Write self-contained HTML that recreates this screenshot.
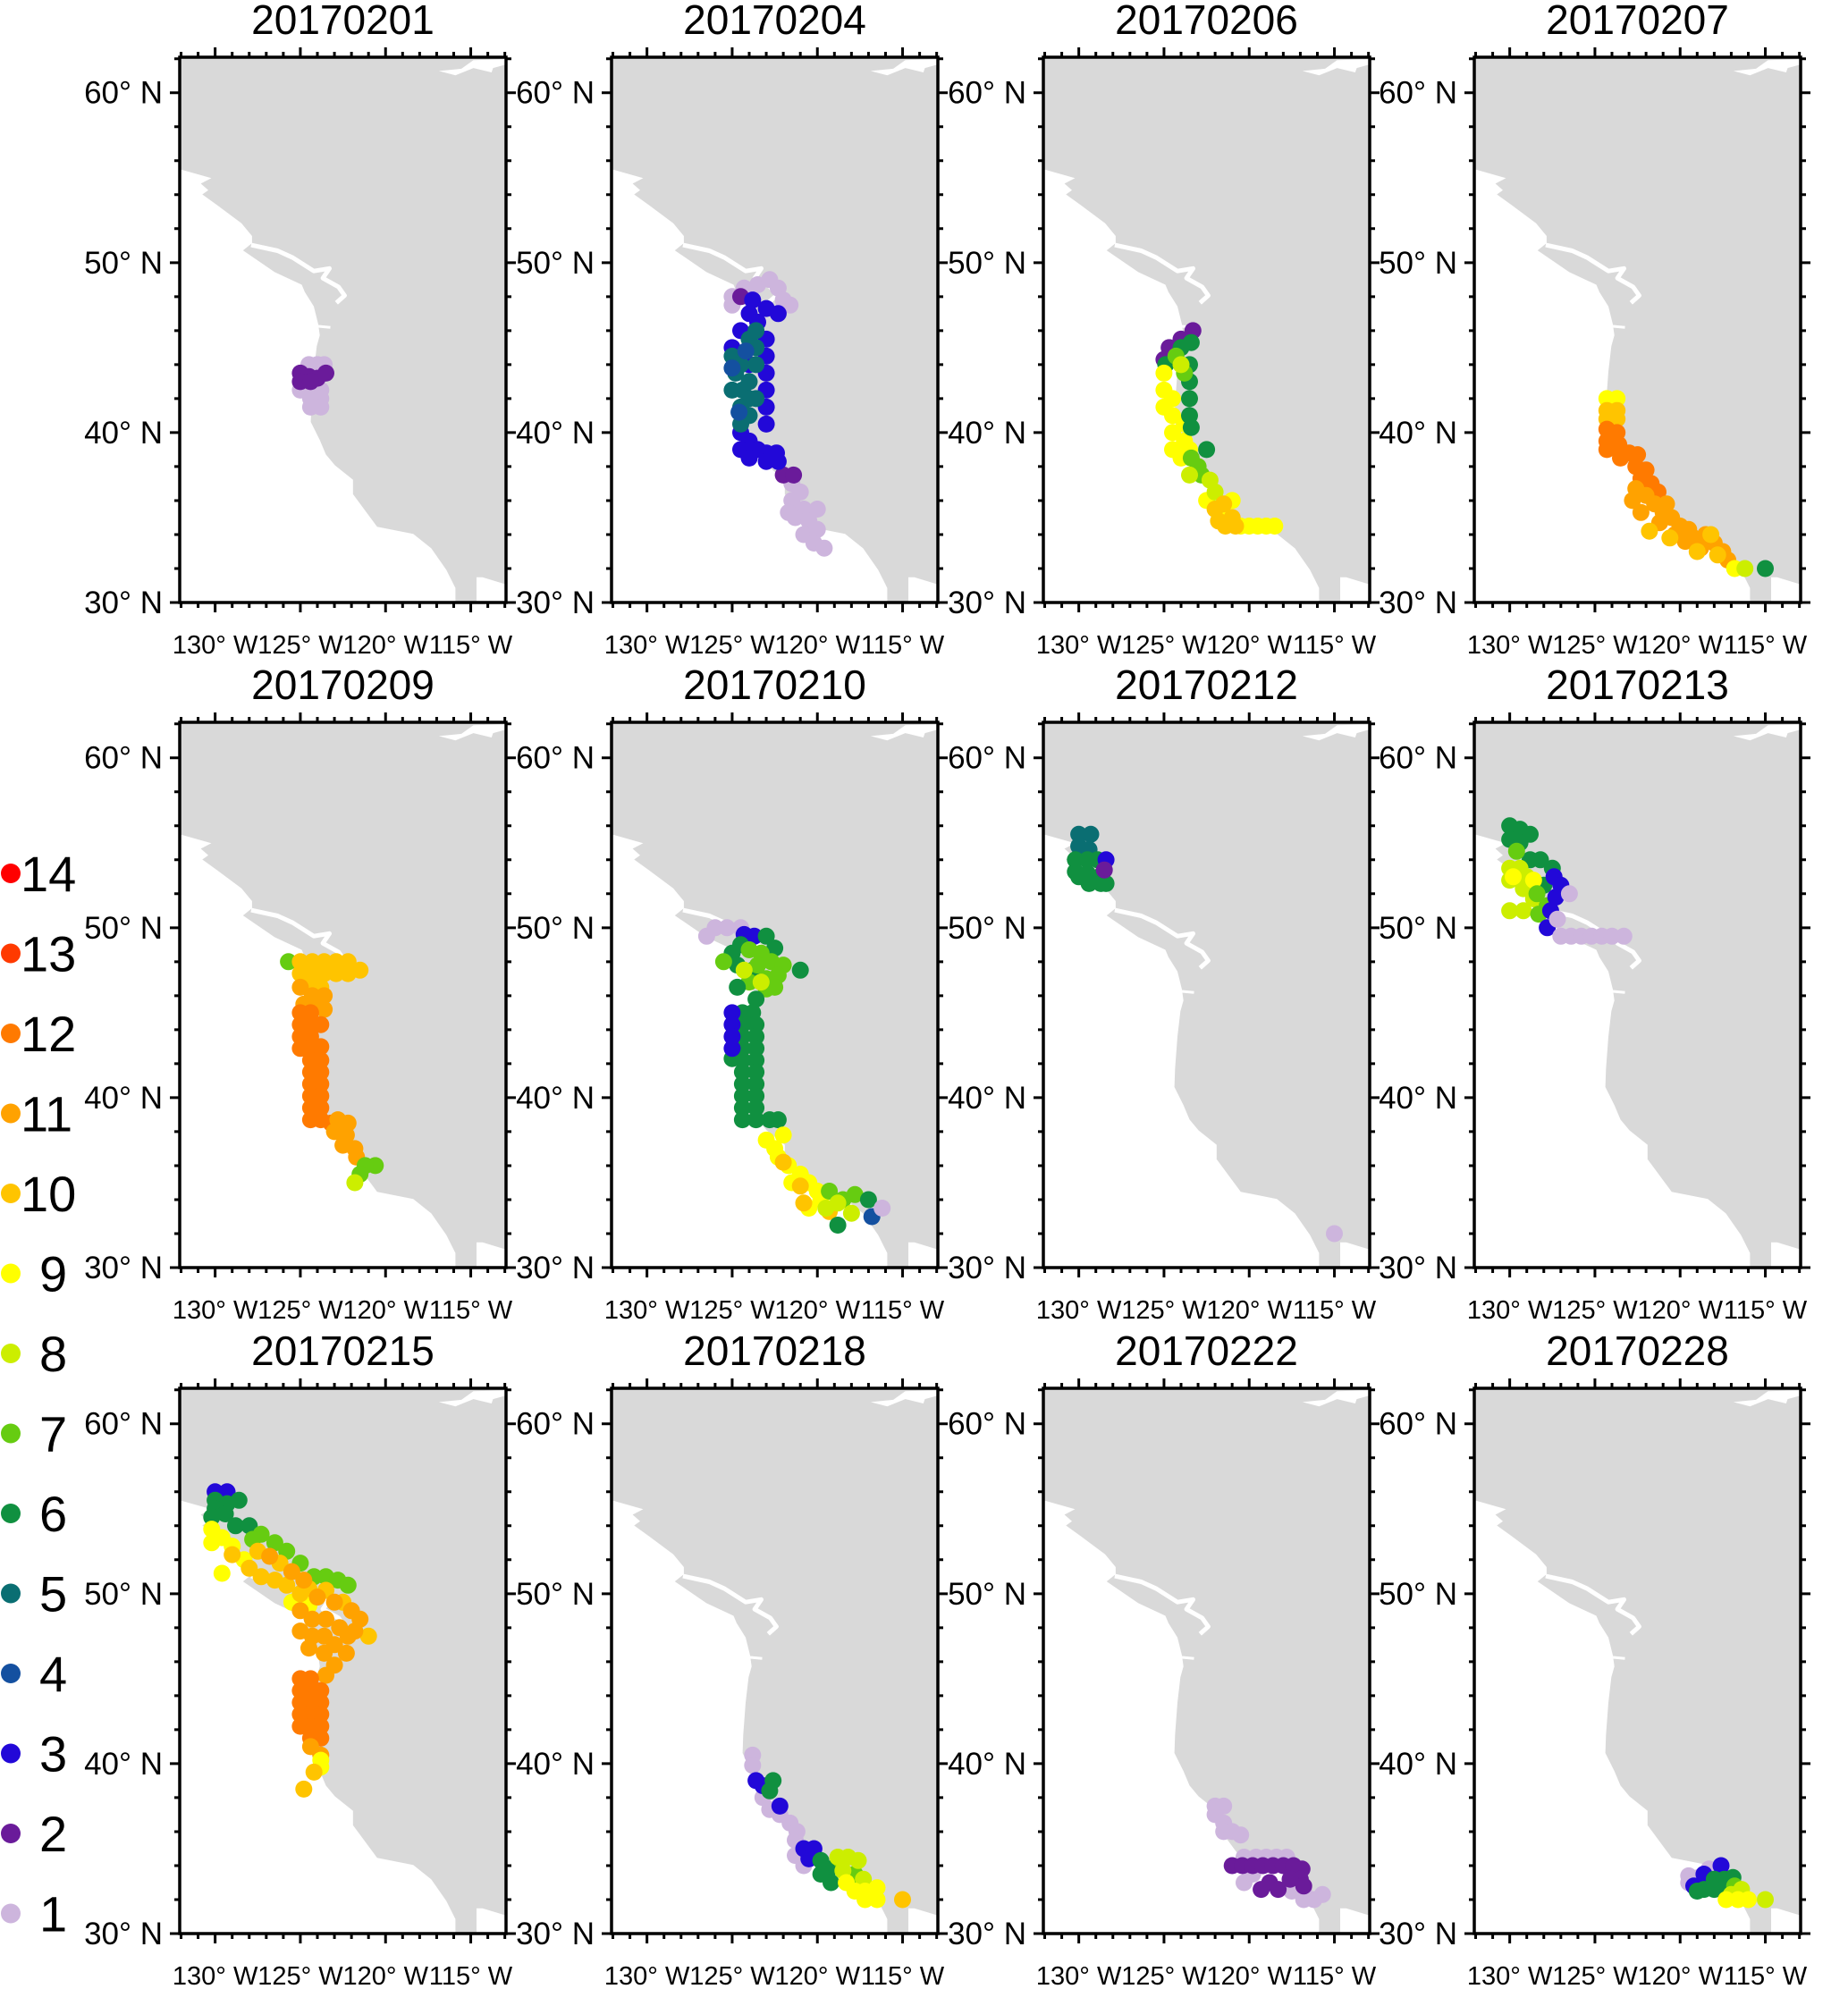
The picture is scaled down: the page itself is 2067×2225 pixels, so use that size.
<!DOCTYPE html>
<html><head><meta charset="utf-8"><style>
html,body{margin:0;padding:0;background:#fff}
svg{display:block}
text{font-family:"Liberation Sans",Arial,sans-serif;fill:#000}
</style></head><body>
<svg id="fig" width="2067" height="2225" viewBox="0 0 2067 2225" xmlns="http://www.w3.org/2000/svg"></svg>
<script>
const dates=["20170201","20170204","20170206","20170207","20170209","20170210","20170212","20170213","20170215","20170218","20170222","20170228"];
const legendValues=[14,13,12,11,10,9,8,7,6,5,4,3,2,1];
const lonTicks=[-130,-125,-120,-115];
const lonTickLabels=["130° W","125°  W","120° W","115° W"];
const latTicks=[30,40,50,60];
const latTickLabels=["30° N","40° N","50° N","60° N"];
const palette={14:"#ff0000",13:"#ff3a00",12:"#ff7a00",11:"#ffa200",10:"#ffc400",9:"#ffff00",8:"#ccee00",7:"#66cc11",6:"#109040",5:"#0a6e72",4:"#1450a0",3:"#2208d8",2:"#6a1b9a",1:"#cdb5dd"};
// points per panel: [lon, lat, value]
const p0201=[[-124.5,44,1],[-124,44,1],[-123.6,44,1],[-125,42.5,1],[-124.4,42.5,1],[-123.8,42.5,1],[-124.4,42,1],[-123.8,42,1],[-124.4,41.5,1],[-123.8,41.5,1],[-125,43.5,2],[-124.5,43.3,2],[-124,43.2,2],[-123.5,43.5,2],[-125,43,2],[-124.4,43,2]];
const p0204=[[-125,48,1],[-124.3,48.5,1],[-123.5,48.7,1],[-122.8,49,1],[-122.3,48.5,1],[-121.6,47.5,1],[-122,47.8,1],[-125,47.5,1],[-121.5,37,1],[-121,36.5,1],[-121.5,36,1],[-120.8,35.5,1],[-121.3,35,1],[-120.5,34.8,1],[-120.8,34,1],[-120,34.3,1],[-120.2,33.5,1],[-119.6,33.2,1],[-121.7,35.3,1],[-120,35.5,1],[-124.5,48,2],[-122,37.5,2],[-121.4,37.5,2],[-123.8,47.8,3],[-123,47.3,3],[-122.3,47,3],[-124,47,3],[-125,45,3],[-123.5,46.5,3],[-123,45.5,3],[-123,44.5,3],[-123,43.5,3],[-123,42.5,3],[-123,41.5,3],[-123,40.5,3],[-124.5,40,3],[-124,39.5,3],[-124.5,39,3],[-123.5,39,3],[-123,38.8,3],[-122.4,38.8,3],[-124,38.5,3],[-123,38.3,3],[-122.3,38.3,3],[-124.5,46,3],[-124,44,3],[-125,44.5,5],[-124.5,44,5],[-124.8,43.5,5],[-125,42.5,5],[-124.4,42.5,5],[-124,42,5],[-124.5,41.5,5],[-124,41,5],[-124.5,40.5,5],[-124,45.5,5],[-123.6,46,5],[-123.6,45,5],[-124,43,5],[-123.6,42,5],[-123.6,44,5],[-125,43.8,4],[-124.2,44.8,4],[-124.6,41.2,4]];
const p0206=[[-124.7,45,2],[-124,45.5,2],[-123.3,46,2],[-125,44.3,2],[-124.4,44.7,2],[-124,45,6],[-123.4,45.3,6],[-124.9,44,6],[-125,43.5,9],[-125,42.5,9],[-125,41.5,9],[-124.5,41,9],[-124.5,40,9],[-124.5,39,9],[-124,38.5,9],[-124.5,42,9],[-123.8,40.5,9],[-123.8,39.5,9],[-123.5,39,9],[-122.5,36,9],[-121.5,35,9],[-120.5,34.5,9],[-120,34.5,9],[-119.5,34.5,9],[-119,34.5,9],[-118.5,34.5,9],[-121,36,9],[-123.5,44,6],[-123.5,43,6],[-123.5,42,6],[-123.5,41,6],[-123.4,40.3,6],[-124.3,44.5,7],[-123.8,43.5,7],[-123,38,7],[-122.8,37.5,7],[-123.4,38.5,7],[-124,44,8],[-123.5,37.5,8],[-122.3,37.2,8],[-122,36.5,8],[-122.5,39,6],[-122,35.5,10],[-121.5,35.8,10],[-121,35,10],[-121.8,34.8,10],[-120.8,34.5,10],[-121.4,34.5,10]];
const p0207=[[-124.3,42,9],[-123.7,42,9],[-124.3,41.3,10],[-123.7,41.3,10],[-124.3,40.8,10],[-123.7,40.8,10],[-124.3,40.2,12],[-124.3,39.5,12],[-124.3,39,12],[-123.7,40,12],[-123.6,39.3,12],[-123.5,38.5,12],[-123,38.8,12],[-122.5,38.7,12],[-122.6,38,12],[-122,37.8,12],[-122.3,37.3,12],[-121.7,37,12],[-121.3,36.5,12],[-122.8,36,11],[-122,36.3,11],[-121.5,35.8,11],[-121,35.3,11],[-122.3,35.3,11],[-120.5,35,11],[-121.2,34.7,11],[-120,34.5,11],[-119.5,34.3,11],[-120.3,34,11],[-119.2,33.8,11],[-118.5,34,11],[-118,33.5,11],[-118.8,33.2,11],[-117.5,33,11],[-117.2,32.5,11],[-120.8,35.8,11],[-119.7,33.6,11],[-122.6,36.7,11],[-121.8,34.2,10],[-120.6,33.8,10],[-119,33,10],[-118.2,34,10],[-117.8,32.8,10],[-116.8,32,9],[-116.2,32,8],[-115,32,6]];
const p0209=[[-125.7,48,7],[-125,48,10],[-124.3,48,10],[-123.6,48,10],[-122.9,48,10],[-122.2,48,10],[-121.5,47.5,10],[-125,47.3,10],[-124.3,47.3,10],[-123.6,47.3,10],[-122.9,47.3,10],[-122.2,47.3,10],[-124.5,46.5,10],[-123.8,46.5,10],[-125,46.5,11],[-124.3,46,11],[-123.6,46,11],[-124.8,45.5,11],[-124.1,45.5,11],[-123.6,45.2,11],[-125,45,12],[-124.4,45,12],[-125,44.3,12],[-124.4,44.3,12],[-123.8,44.3,12],[-125,43.6,12],[-124.4,43.6,12],[-125,42.9,12],[-124.4,42.9,12],[-124.4,42.2,12],[-123.8,42.2,12],[-124.4,41.5,12],[-123.8,41.5,12],[-124.4,40.8,12],[-123.8,40.8,12],[-124.4,40.1,12],[-123.8,40.1,12],[-124.4,39.4,12],[-123.8,39.4,12],[-124.4,38.7,12],[-123.8,38.7,12],[-123.2,38.5,12],[-123.8,43,12],[-122.8,38.7,11],[-122.2,38.5,11],[-123,38,11],[-122.3,37.8,11],[-122.5,37.2,11],[-121.8,37,11],[-121.7,36.5,11],[-120.6,36,7],[-121.2,36,7],[-121.5,35.5,7],[-121.8,35,8]];
const p0210=[[-126.5,49.5,1],[-126,50,1],[-125.3,50,1],[-124.5,50,1],[-124.3,49.6,3],[-123.7,49.5,3],[-125,48.5,6],[-124.5,49,6],[-123,49.5,6],[-122.5,48.8,6],[-121,47.5,6],[-124.7,47.8,6],[-123.8,47.5,6],[-125.5,48,7],[-124,48.7,7],[-123.3,48.5,7],[-122.7,48,7],[-122,47.8,7],[-123.5,47.8,7],[-123,47,7],[-122.3,47.2,7],[-123,46.4,7],[-122.5,46.5,7],[-124,46.8,7],[-124.3,47.5,8],[-123.3,46.8,8],[-124.7,46.5,6],[-123.6,45.8,6],[-124.4,45,6],[-123.8,45,6],[-124.4,44.3,6],[-123.6,44.3,6],[-124.4,43.6,6],[-123.6,43.6,6],[-124.4,42.9,6],[-123.6,42.9,6],[-124.4,42.2,6],[-123.6,42.2,6],[-124.4,41.5,6],[-123.6,41.5,6],[-124.4,40.8,6],[-123.6,40.8,6],[-124.4,40.1,6],[-123.6,40.1,6],[-124.4,39.4,6],[-123.6,39.4,6],[-124.4,38.7,6],[-123.6,38.7,6],[-122.8,38.7,6],[-122.3,38.7,6],[-125,42.3,6],[-125,45,3],[-125,44.3,3],[-125,43.6,3],[-125,42.9,3],[-123,37.5,9],[-122.5,37,9],[-122.3,36.5,9],[-121.7,36,9],[-121,35.5,9],[-120.5,35,9],[-120,34.5,9],[-119.8,34,9],[-120.5,33.5,9],[-121.5,35,9],[-122,37.8,9],[-122,36.2,10],[-121,34.8,10],[-119.3,33.3,10],[-120.8,33.8,10],[-119.3,34.5,7],[-118.5,34,7],[-117.8,34.3,7],[-118.8,33.8,8],[-118,33.2,8],[-119.5,33.5,8],[-117,34,6],[-118.8,32.5,6],[-116.8,33,4],[-116.2,33.5,1]];
const p0212=[[-130,55.5,5],[-129.3,55.5,5],[-130,54.8,5],[-129.4,54.6,5],[-130.2,54,6],[-129.5,54,6],[-128.9,54,6],[-130.2,53.3,6],[-129.5,53.2,6],[-128.8,53,6],[-128.4,52.6,6],[-129.4,52.6,6],[-128.7,52.6,6],[-130,53,6],[-128.4,54,3],[-128.5,53.4,2],[-115,32,1]];
const p0213=[[-130,56,6],[-129.4,55.8,6],[-128.8,55.5,6],[-130,55.2,6],[-129.4,55,6],[-128.8,54,6],[-128.2,54,6],[-127.5,53.5,6],[-128,52.5,6],[-129.6,54.5,7],[-130,53.5,8],[-129.4,53.5,8],[-129,53,8],[-130,52.8,8],[-129.2,52.3,8],[-128.6,51.7,8],[-130,51,8],[-129.2,51,8],[-129.8,53,9],[-128.6,52.8,9],[-128.4,52,7],[-127.8,51.3,7],[-128.3,50.8,7],[-127.4,53,3],[-127,52.5,3],[-127.3,51.8,3],[-127.6,51,3],[-127.8,50,3],[-126.5,52,1],[-127.2,50.5,1],[-127,49.5,1],[-126.4,49.5,1],[-125.8,49.5,1],[-125.2,49.5,1],[-124.6,49.5,1],[-124,49.5,1],[-123.3,49.5,1]];
const p0215=[[-130,56,3],[-129.3,56,3],[-130,55.5,6],[-129.3,55.3,6],[-128.6,55.5,6],[-130,55,6],[-129.4,54.7,6],[-128.8,54,6],[-128,54,6],[-130.2,54.5,6],[-127.3,53.5,7],[-126.5,53,7],[-125.8,52.5,7],[-125,51.8,7],[-124.2,51,7],[-123.5,51,7],[-122.8,50.8,7],[-122.2,50.5,7],[-127.8,53.2,7],[-130.2,53.8,9],[-129.6,53.3,9],[-130.2,53,9],[-129,52.8,9],[-128.3,52,9],[-129.6,51.2,9],[-125.5,49.5,9],[-124.5,49.3,9],[-129,52.3,10],[-128,51.5,10],[-127.3,51,10],[-126.5,50.8,10],[-125.8,50.5,10],[-125,50,10],[-127.5,52.5,10],[-126.2,51.8,10],[-124.5,50.3,10],[-123.5,50.2,10],[-122.5,49.5,10],[-121,47.5,10],[-126.8,52.2,11],[-125.5,51.3,11],[-124.8,50.8,11],[-124,49.8,11],[-123,49.5,11],[-122,49,11],[-121.5,48.5,11],[-121.8,47.8,11],[-125,49,11],[-124.3,48.5,11],[-123.5,48.5,11],[-122.7,48,11],[-122.2,47.5,11],[-125,47.8,11],[-124.3,47.5,11],[-123.6,47.5,11],[-123,47,11],[-122.3,46.5,11],[-124.5,46.8,11],[-123.6,46.5,11],[-123,45.8,11],[-123.5,45.2,11],[-125,45,12],[-124.4,45,12],[-125,44.3,12],[-124.4,44.3,12],[-123.8,44.3,12],[-125,43.6,12],[-124.4,43.6,12],[-123.8,43.6,12],[-125,42.9,12],[-124.4,42.9,12],[-123.8,42.9,12],[-124.4,42.2,12],[-123.8,42.2,12],[-124.4,41.5,12],[-123.8,41.5,12],[-125,42.2,12],[-124.4,41,11],[-123.8,40.5,11],[-123.8,40.2,9],[-123.8,39.8,9],[-124.2,39.5,10],[-124.8,38.5,10]];
const p0218=[[-123.8,40.5,1],[-123.8,39.9,1],[-123.2,38,1],[-122.8,37.3,1],[-122.2,37,1],[-121.6,36.5,1],[-121.2,36,1],[-121.3,35.5,1],[-121.3,34.6,1],[-120.8,34,1],[-123.6,39,3],[-123.2,38.7,3],[-122.2,37.5,3],[-120.8,35,3],[-120.2,35,3],[-120.5,34.4,3],[-122.6,39,6],[-122.8,38.4,6],[-119.8,34.3,6],[-119.3,33.8,6],[-119.8,33.5,6],[-119.2,33,6],[-118.6,34.3,7],[-117.8,33.5,7],[-118.8,34.5,8],[-118.2,34.5,8],[-117.6,34.3,8],[-118.5,33.7,8],[-117.3,33.2,8],[-118.3,33,9],[-117.8,32.5,9],[-117.2,32.5,9],[-116.5,32,9],[-117.2,32,9],[-116.5,32.7,9],[-115,32,10]];
const p0222=[[-122,37.5,1],[-121.5,37.5,1],[-122,37,1],[-121.5,36.5,1],[-121.5,36,1],[-121,36,1],[-120.5,35.8,1],[-120.3,34.5,1],[-119.6,34.5,1],[-119,34.5,1],[-118.4,34.5,1],[-117.8,34.5,1],[-120.3,33,1],[-119.8,33.5,1],[-117.5,32.5,1],[-116.8,32,1],[-116.2,32,1],[-115.7,32.3,1],[-116.8,32.6,1],[-121,34,2],[-120.4,34,2],[-119.8,34,2],[-119.2,34,2],[-118.6,34,2],[-118,34,2],[-117.4,34,2],[-116.9,33.8,2],[-117,33.2,2],[-117.6,33.2,2],[-118.8,33,2],[-118.3,32.6,2],[-119.3,32.6,2],[-116.8,32.8,2]];
const p0228=[[-119.5,33.4,1],[-119.5,33,1],[-118.9,33.3,1],[-118.3,33.8,1],[-117.6,34,3],[-118.6,33.5,3],[-119.2,32.8,3],[-118.6,32.6,6],[-118,32.6,6],[-118,33.2,6],[-117.4,33.2,6],[-116.9,33.3,6],[-117.5,32.6,6],[-119,32.5,6],[-116.8,32.8,7],[-116.4,32.6,8],[-117,32.3,8],[-117.3,32,9],[-116.6,32,9],[-116,32,9],[-115,32,8]];
const panelPoints=[p0201,p0204,p0206,p0207,p0209,p0210,p0212,p0213,p0215,p0218,p0222,p0228];

const NS="http://www.w3.org/2000/svg";
const svg=document.getElementById('fig');
function mk(tag,attrs,parent){const e=document.createElementNS(NS,tag);for(const k in attrs)e.setAttribute(k,attrs[k]);(parent||svg).appendChild(e);return e;}
const lefts=[201,684,1167,1649], tops=[64,808,1553];
const PW=365, PH=610, LON0=-132.08, LON1=-112.93, LAT0=30, LAT1=62.09;
const coastRaw=[[25,340],[130,365],[95,380],[120,398],[100,410],[150,440],[230,490],[265,525],[265,545],[235,565],[340,625],[430,660],[440,680],[470,720],[485,770],[490,800],[480,830],[470,900],[462,990],[460,1040],[490,1090],[510,1130],[540,1160],[600,1200],[600,1240],[680,1330],[800,1350],[860,1390],[910,1450],[940,1500],[940,1545],[1010,1545],[1010,1470],[1030,1470],[1108,1490],[1108,25],[20,25],[20,340]];
const straitRaw=[[262,550],[350,566],[400,585],[470,622],[522,615],[500,642],[552,666],[572,690],[545,710]];
const strait2Raw=[[25,470],[75,500]];
const strait3Raw=[[25,405],[40,440]];
const riverRaw=[[485,775],[525,778]];
const lakeRaw=[[885,68],[940,80],[1000,60],[1060,72],[1065,60],[1108,50],[1108,36],[1000,38],[960,62]];
function rawToLL(p){return [LON0+(p[0]-25)*(LON1-LON0)/1083, LAT1-(p[1]-30)*(LAT1-LAT0)/1510];}

const defs=mk('defs',{});
dates.forEach((d,i)=>{
  const col=i%4,row=Math.floor(i/4);
  const L=lefts[col],T=tops[row];
  const xs=lon=>L+(lon-LON0)/(LON1-LON0)*PW;
  const ys=lat=>T+PH-(lat-LAT0)/(LAT1-LAT0)*PH;
  const g=mk('g',{});
  
  
  const cp=mk('clipPath',{id:'clip'+i},defs);
  mk('rect',{x:L,y:T,width:PW,height:PH},cp);
  const inner=mk('g',{'clip-path':'url(#clip'+i+')'},g);
  const pts=a=>a.map(p=>{const ll=rawToLL(p);return xs(ll[0]).toFixed(1)+','+ys(ll[1]).toFixed(1);}).join(' ');
  const land=mk('polygon',{points:pts(coastRaw),fill:'#d9d9d9'},inner);
  
  
  mk('polyline',{points:pts(straitRaw),fill:'none',stroke:'#fff','stroke-width':5,'stroke-linejoin':'round'},inner);
  mk('polyline',{points:pts(strait2Raw),fill:'none',stroke:'#fff','stroke-width':5},inner);
  mk('polyline',{points:pts(strait3Raw),fill:'none',stroke:'#fff','stroke-width':4},inner);
  mk('polyline',{points:pts(riverRaw),fill:'none',stroke:'#fff','stroke-width':3},inner);
  mk('polygon',{points:pts(lakeRaw),fill:'#fff'},inner);
  panelPoints[i].forEach(p=>{
    const c=mk('circle',{cx:xs(p[0]).toFixed(1),cy:ys(p[1]).toFixed(1),r:9.5,fill:palette[p[2]]},inner);
    
    
  });
  const fr=mk('rect',{x:L,y:T,width:PW,height:PH,fill:'none',stroke:'#000','stroke-width':3.5},g);
  
  
  let tk='';
  for(let lon=-132;lon<=-113;lon++){
    const x=xs(lon);const len=(lon%5===0)?11:6;
    tk+=`M${x},${T}v${-len}M${x},${T+PH}v${len}`;
  }
  for(let lat=30;lat<=62;lat+=2){
    const y=ys(lat);const len=(lat%10===0)?11:6;
    tk+=`M${L},${y}h${-len}M${L+PW},${y}h${len}`;
  }
  mk('path',{d:tk,stroke:'#000','stroke-width':3,fill:'none'},g);
  lonTicks.forEach((lon,k)=>{
    const t=mk('text',{x:xs(lon),y:T+PH+57,'font-size':29,'text-anchor':'middle'},g);
    t.textContent=lonTickLabels[k];
    
    
  });
  latTicks.forEach((lat,k)=>{
    const t=mk('text',{x:L-19,y:ys(lat)+12,'font-size':35,'text-anchor':'end'},g);
    t.textContent=latTickLabels[k];
    
    
  });
  const tt=mk('text',{x:L+PW/2,y:T-26,'font-size':46,'text-anchor':'middle'},g);
  tt.textContent=d;
  
  
});
const lg=mk('g',{});


legendValues.forEach((v,k)=>{
  const y=977+k*89.5;
  const c=mk('circle',{cx:12,cy:y,r:11,fill:palette[v]},lg);
  
  
  const t=mk('text',{x:v>=10?23:44,y:y+20,'font-size':56},lg);
  t.textContent=v;
  
  
});
</script>
</body></html>
